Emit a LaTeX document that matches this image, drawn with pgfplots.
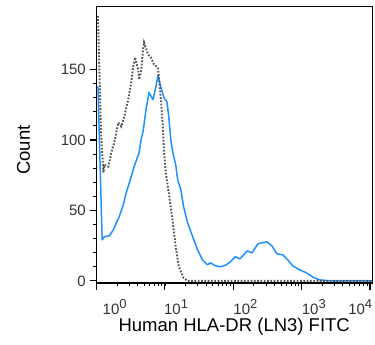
\documentclass[border=0pt]{standalone}
\usepackage{fontspec}
\setmainfont{Liberation Sans}
\usepackage{pgfplots}
\pgfplotsset{compat=1.18}
\definecolor{blueline}{RGB}{30,144,255}
\definecolor{grayline}{RGB}{85,85,85}
\newcommand{\tl}[1]{10\raisebox{6pt}{\fontsize{13}{13}\selectfont #1}}
\begin{document}
\begin{tikzpicture}
\begin{axis}[
  scale only axis,
  width=275.5pt, height=277pt,
  at={(0,0)}, anchor=south west,
  xmode=log,
  xmin=1, xmax=10700,
  ymin=-1.5, ymax=195,
  tick pos=left,
  tick align=outside,
  axis line style={line width=0.8pt},
  xtick={1,10,100,1000,10000},
  xticklabels={\hspace*{6pt}\tl{0},\hspace*{-1pt}\tl{1},\tl{2},\tl{3},\hspace*{2pt}\llap{\tl{4}}},
  xticklabel style={anchor=north west, inner sep=0pt, yshift=-9pt, font=\fontsize{15}{15}\selectfont, text=black!80},
  ytick={0,50,100,150},
  minor y tick num=4,
  yticklabel style={font=\fontsize{15}{15}\selectfont, text=black!80, inner sep=0pt, xshift=-3.5pt},
  /pgf/number format/assume math mode=true,
  major tick length=7pt,
  minor tick length=3.5pt,
  every major tick/.append style={line width=1.2pt, black},
  every minor tick/.append style={line width=0.7pt, black},
  xlabel={Human HLA-DR (LN3) FITC},
  ylabel={Count},
  xlabel style={at={(axis description cs:0.5,0)}, anchor=center, yshift=-44pt, font=\fontsize{18.5}{18.5}\selectfont},
  ylabel style={at={(axis description cs:0,0.5)}, anchor=center, yshift=73pt, xshift=-5.5pt, font=\fontsize{18.5}{18.5}\selectfont},
]
\addplot[blueline, line width=1.5pt, line join=round] coordinates {
(1.05,138) (1.21,29.1) (1.306,31.3) (1.543,32) (1.763,36.2) (1.95,41.2) (2.15,45.5) (2.46,54) (2.72,62.5) (3.22,73.9) (3.55,81) (4.2,91) (4.49,100.2) (4.8,106) (5.3,121.5) (5.86,133.6) (6.7,128.6) (7.41,137.9) (7.92,145.7) (8.75,137.2) (9.68,130) (10.7,127.2) (11.4,116.6) (12.2,100.2) (13.1,91) (14.4,82.4) (15.4,71.8) (17.1,64.7) (18.8,52.6) (21.5,41.2) (25.5,31.3) (30.1,22) (35.5,14.9) (42,11.4) (46.4,12.8) (54.8,10.7) (64.8,10) (79.2,11.4) (90.5,13.5) (107,17.1) (126,15.6) (160,21.3) (188,19.9) (230,26.3) (311,27.7) (367,24.9) (434,19.2) (531,18.5) (627,14.9) (741,10.7) (936,7.8) (1180,5.7) (1443,2.8) (1824,0.7) (2547,0) (10700,0)
};
\addplot[grayline, line width=1.9pt, dash pattern=on 1.7pt off 1.6pt] coordinates {
(1.05,188) (1.15,115) (1.18,100.2) (1.263,76.8) (1.306,82.4) (1.49,81) (1.65,91) (1.82,98) (2.08,112.3) (2.3,109.5) (2.55,116.6) (2.91,128.6) (3.22,140.7) (3.44,152.1) (3.67,158.5) (4.06,150) (4.2,142.9) (4.49,148.5) (4.8,164.2) (4.96,169.2) (5.67,160.6) (6.27,158.5) (6.93,153.5) (7.92,151.4) (8.18,145) (8.75,128.6) (9.35,109.5) (9.68,93.1) (10.3,76.8) (11.4,62.5) (13.1,41.2) (14.4,24.2) (16,10) (18.8,2.1) (21.5,0) (10700,0)
};
\draw[line width=1.4pt, black] (rel axis cs:0,1) -- (rel axis cs:0,0) -- (rel axis cs:1,0);
\end{axis}
\pgfresetboundingbox
\path (-96.5pt,-62pt) rectangle (278.5pt,283pt);
\end{tikzpicture}
\end{document}
